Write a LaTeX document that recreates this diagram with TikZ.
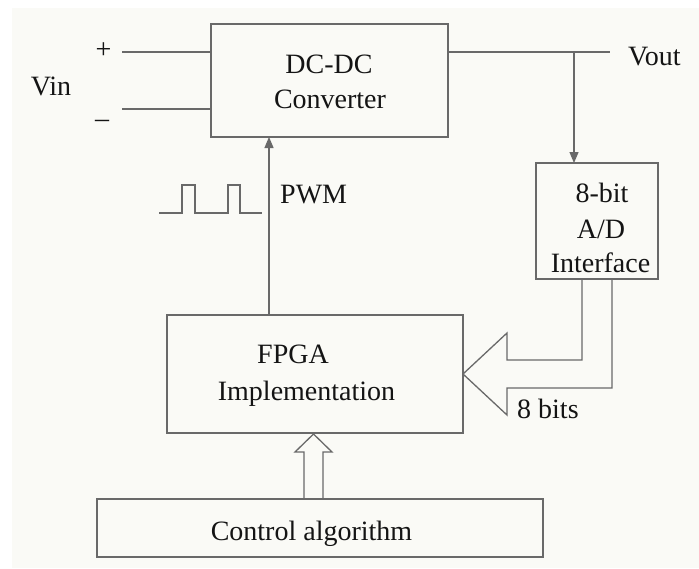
\documentclass[tikz,border=0pt]{standalone}
\usepackage{fontspec}
\setmainfont{Liberation Serif}
\usetikzlibrary{arrows.meta,calc}
\definecolor{paper}{RGB}{250,250,246}
\definecolor{wire}{RGB}{105,105,105}
\definecolor{ink}{RGB}{20,20,20}
\tikzset{
  box/.style={draw=wire, line width=1.3pt, inner sep=0pt, outer sep=0pt},
  wireline/.style={draw=wire, line width=1.3pt},
  tip/.style={-{Triangle[length=11pt,width=9pt]}},
  lbl/.style={text=ink, inner sep=0pt, anchor=base, font=\fontsize{28}{34}\selectfont},
}
\begin{document}
\begin{tikzpicture}[x=1pt,y=-1pt]
  % page and paper
  \useasboundingbox (0,0) rectangle (699,568);
  \fill[white] (0,0) rectangle (699,568);
  \fill[paper] (12,8) rectangle (699,568);

  % blocks
  \node[box, minimum width=237pt, minimum height=113pt] (dcdc) at (329.5,80.5) {};
  \node[box, minimum width=122pt, minimum height=116pt] (adc)  at (597,221) {};
  \node[box, minimum width=296pt, minimum height=118pt] (fpga) at (315,374) {};
  \node[box, minimum width=446pt, minimum height=58pt]  (ctrl) at (320,528) {};

  % block texts
  \node[lbl] (dcdcA) at (329,73)  {DC-DC};
  \node[lbl] (dcdcB) at (330,108) {Converter};
  \node[lbl] (adcA)  at (602,202) {8-bit};
  \node[lbl] (adcB)  at (601,238) {A/D};
  \node[lbl] (adcC)  at (600.5,272) {Interface};
  \node[lbl] (fpgaA) at (293,363) {FPGA};
  \node[lbl] (fpgaB) at (306.5,400) {Implementation};
  \node[lbl] (ctrlA) at (311.5,540) {Control algorithm};

  % input terminals
  \coordinate (vinp) at (122,52);
  \coordinate (vinn) at (122,109);
  \draw[wireline] (vinp) -- (vinp -| dcdc.west);
  \draw[wireline] (vinn) -- (vinn -| dcdc.west);
  \node[lbl] (plus)  at (103.5,58) {+};
  \node[lbl] (minus) at (102,127) {–};
  \node[lbl] (vin)   at (51,95) {Vin};

  % output terminal and feedback tap
  \coordinate (vout) at (610,52);
  \coordinate (tap) at ($(adc.north)+(-23,0)$);
  \draw[wireline] (vout -| dcdc.east) -- (vout);
  \draw[wireline, tip] (tap |- vout) -- (tap);
  \node[lbl, anchor=base west] (voutl) at (628,65) {Vout};

  % PWM drive
  \coordinate (pwm) at ($(fpga.north)+(-46,0)$);
  \draw[wireline, tip] (pwm) -- (pwm |- dcdc.south);
  \node[lbl, anchor=base west] (pwml) at (280,203) {PWM};
  \draw[wireline] (159,213) -- (182,213) -- (182,185) -- (195,185) -- (195,213)
                  -- (228,213) -- (228,185) -- (240,185) -- (240,213) -- (262,213);

  % 8-bit bus into the FPGA
  \draw[wireline, line join=miter]
    ($(adc.south)+(-15,0)$) |- ($(fpga.east)+(44,-14)$) -- ++(0,-27)
    -- (fpga.east) -- ($(fpga.east)+(44,41)$) -- ++(0,-27)
    -| ($(adc.south)+(15,0)$);
  \node[lbl, anchor=base west] (bits) at (517,418) {8 bits};

  % control algorithm into the FPGA
  \coordinate (upL) at ($(fpga.south)+(-11,0)$);
  \coordinate (upR) at ($(fpga.south)+(8,0)$);
  \draw[wireline, line join=miter]
    (upL |- ctrl.north) -- ($(upL)+(0,19)$)
    -- ($(fpga.south)+(-20,19)$) -- ($(fpga.south)+(-1.5,1)$)
    -- ($(fpga.south)+(17,19)$) -- ($(upR)+(0,19)$)
    -- (upR |- ctrl.north);
\end{tikzpicture}
\end{document}
